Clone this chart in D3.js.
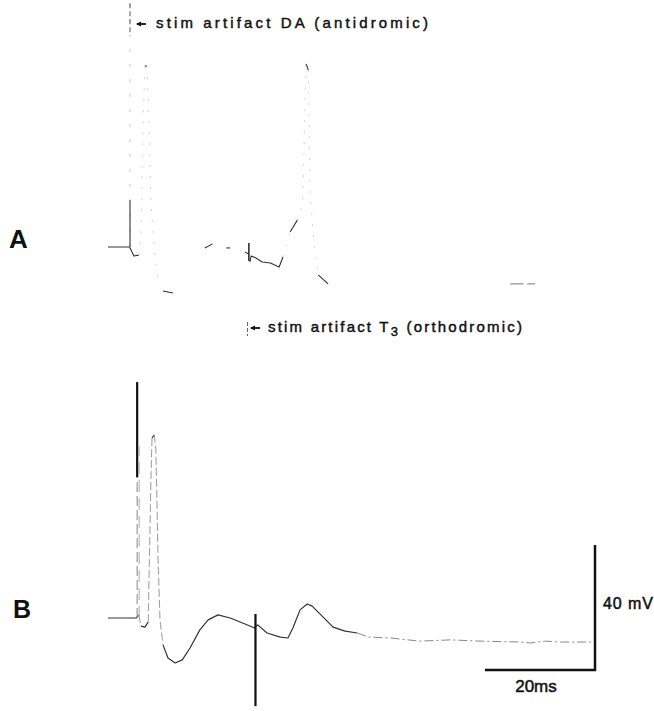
<!DOCTYPE html>
<html>
<head>
<meta charset="utf-8">
<script src="https://cdn.jsdelivr.net/npm/d3@7"></script>
<style>
  body { margin: 0; background: #fff; }
  svg { display: block; }
  text { font-family: "Liberation Sans", "DejaVu Sans", sans-serif; fill: #111; }
</style>
</head>
<body>
<svg id="chart" width="654" height="711"></svg>
<script>
// trace A (antidromic), time in ms, membrane potential in mV relative to rest; null = trace not visible
const timeA = [0, 3.9, 4.2, 4.7, 5.6, 6.0, 6.4, 6.7, 7.1, 7.5, 7.8, 8.4, 9.1, null,
  10.0, 11.8, null, 17.6, 19.0, null, 21.5, 22.2, null, 24.9, 25.5, 25.8, 26.0, 26.9, 28.0, 29.5,
  31.1, 31.8, 33.1, 34.4, 35.3, 35.5, 35.8, 36.0, 36.4, 36.7, 37.1, 37.5, 38.2, 40.0, null,
  73.1, 75.5, null, 76.2, 77.6];
const voltA = [0, 0, -1, -2.9, -2.6, 2.2, 40.6, 57.9, 57.9, 37.4, 15, -1, -10.6, null,
  -14.1, -14.7, null, -0.3, 1.0, null, -0.3, -0.3, null, -1.6, -2.2, -4.8, -2.9, -3.5, -4.8, -5.1,
  -6.4, -3.2, 4.8, 8.6, 13.4, 20.8, 47, 58.6, 56.6, 20.5, 8.6, -0.3, -8.9, -11.8, null,
  -11.8, -11.8, null, -11.8, -11.8];

// trace B (orthodromic)
const timeB = [0, 5.1, 5.6, 6.0, 6.7, 7.3, 7.8, 8.0, 8.4, 8.7, 9.1, 9.45, 10.0, 10.9, 12.2, 13.5,
  14.9, 16.7, 18.2, 20.0, 22.2, 24.9, 26.2, 26.6, 27.2, 28.9, 31.3, 32.7, 33.6, 34.9, 36.2, 37.1,
  39.1, 40.9, 43.1, 45.3, 47.3, 51.3, 56.7, 62.2, 67.6, 74.9, 76.7, 79.5, 82.2, 88.5];
const voltB = [0, 0, 1, -2.6, -2.9, -1.3, 44, 57.6, 58.6, 53.8, 18.6, -0.6, -8.6, -12.8, -14.4, -13.4,
  -9.6, -3.8, -0.6, 1.0, 0, -1.9, -2.9, -3.2, -2.2, -4.8, -6.1, -6.4, -3.2, 2.6, 4.5, 3.8,
  0.3, -2.9, -4.2, -4.8, -6.1, -6.4, -7.4, -7.0, -7.4, -7.7, -8.0, -7.4, -7.7, -7.7];

// stimulus artifacts: time, top and bottom potential
const artTimeA = [4.0, 25.6];
const artTopA = [78, 1.3];
const artBottomA = [0, -4.5];
const artTimeB = [5.3, 26.8];
const artTopB = [75.5, 1.3];
const artBottomB = [0, -28.2];

// calibration bars
const barMs = 20;
const barMv = 40;
const barEndMs = 88.5;
const barBottomMv = -16.6;

const svg = d3.select('#chart');
svg.append('rect').attr('width', 654).attr('height', 711).attr('fill', '#fff');

const x = d3.scaleLinear().domain([0, 88.5]).range([108, 595]);
const yA = d3.scaleLinear().domain([0, 40]).range([247, 122]);
const yB = d3.scaleLinear().domain([0, 40]).range([618, 493]);

const line = d3.line().x(d => d[0]).y(d => d[1]);

// split a trace into runs: steep (fast) parts come out broken and grey like the photo,
// and the late part of the sweep fades a bit
function drawTrace(times, volts, y, style) {
  const g = svg.append('g');
  let run = [], runKind = null;
  const flush = () => {
    if (run.length < 2) return;
    const s = style[runKind];
    g.append('path')
      .attr('d', line(run))
      .attr('fill', 'none')
      .attr('stroke', s.color)
      .attr('stroke-width', s.width)
      .attr('stroke-dasharray', s.dash || null)
      .attr('stroke-linejoin', 'round');
  };
  for (let i = 1; i < times.length; i++) {
    if (times[i - 1] == null || times[i] == null) {
      flush(); run = []; runKind = null;
      continue;
    }
    const p0 = [x(times[i - 1]), y(volts[i - 1])];
    const p1 = [x(times[i]), y(volts[i])];
    const fast = Math.abs(p1[1] - p0[1]) > 3 * Math.abs(p1[0] - p0[0]) && Math.abs(p1[1] - p0[1]) > 8;
    const kind = fast ? 'fast' : (times[i - 1] >= style.fadeAfter ? 'tail' : 'slow');
    if (runKind !== kind) {
      flush();
      run = [p0];
      runKind = kind;
    }
    run.push(p1);
  }
  flush();
}

drawTrace(timeA, voltA, yA, {
  fadeAfter: 60,
  slow: { color: '#333', width: 1.1 },
  tail: { color: '#777', width: 1 },
  fast: { color: '#d4d4d4', width: 1, dash: '2,9' }
});
drawTrace(timeB, voltB, yB, {
  fadeAfter: 44,
  slow: { color: '#333', width: 1.2 },
  tail: { color: '#888', width: 1, dash: '9,3,2,3' },
  fast: { color: '#9a9a9a', width: 1, dash: '8,3' }
});

// artifacts
artTimeA.forEach((t, i) => {
  svg.append('line')
    .attr('x1', x(t)).attr('x2', x(t))
    .attr('y1', yA(artBottomA[i])).attr('y2', yA(artTopA[i]))
    .attr('stroke', i === 0 ? '#c8c8c8' : '#222')
    .attr('stroke-width', i === 0 ? 1 : 1.5)
    .attr('stroke-dasharray', i === 0 ? '3,12' : null);
});
// visible foot and top of the first A artifact
svg.append('line')
  .attr('x1', x(artTimeA[0])).attr('x2', x(artTimeA[0]))
  .attr('y1', yA(0)).attr('y2', yA(15))
  .attr('stroke', '#333').attr('stroke-width', 1.1);
svg.append('line')
  .attr('x1', x(artTimeA[0])).attr('x2', x(artTimeA[0]))
  .attr('y1', yA(artTopA[0])).attr('y2', yA(artTopA[0] - 10))
  .attr('stroke', '#555').attr('stroke-width', 1).attr('stroke-dasharray', '5,3');

artTimeB.forEach((t, i) => {
  if (i === 0) {
    // upper part dark, lower part broken grey (double edge)
    svg.append('line')
      .attr('x1', x(t)).attr('x2', x(t))
      .attr('y1', yB(45)).attr('y2', yB(artTopB[i]))
      .attr('stroke', '#111').attr('stroke-width', 2.2);
    svg.append('line')
      .attr('x1', x(t)).attr('x2', x(t))
      .attr('y1', yB(artBottomB[i])).attr('y2', yB(45))
      .attr('stroke', '#999').attr('stroke-width', 1.2).attr('stroke-dasharray', '10,4');
    svg.append('line')
      .attr('x1', x(t) + 2).attr('x2', x(t) + 2)
      .attr('y1', yB(artBottomB[i])).attr('y2', yB(55))
      .attr('stroke', '#aaa').attr('stroke-width', 1).attr('stroke-dasharray', '12,6');
  } else {
    svg.append('line')
      .attr('x1', x(t)).attr('x2', x(t))
      .attr('y1', yB(artBottomB[i])).attr('y2', yB(artTopB[i]))
      .attr('stroke', '#111').attr('stroke-width', 2.2);
  }
});

// calibration bars
svg.append('path')
  .attr('d', line([
    [x(barEndMs - barMs), yB(barBottomMv)],
    [x(barEndMs), yB(barBottomMv)],
    [x(barEndMs), yB(barBottomMv + barMv)]
  ]))
  .attr('fill', 'none')
  .attr('stroke', '#111')
  .attr('stroke-width', 2.5);

svg.append('text')
  .attr('x', x(barEndMs) + 8).attr('y', yB(barBottomMv + barMv / 2) + 2)
  .attr('font-size', 16).attr('stroke', '#111').attr('stroke-width', 0.5)
  .attr('textLength', 50).attr('lengthAdjust', 'spacing')
  .text(`${barMv} mV`);

svg.append('text')
  .attr('x', x(barEndMs - barMs / 2) - 4).attr('y', yB(barBottomMv) + 22)
  .attr('text-anchor', 'middle')
  .attr('font-size', 17).attr('stroke', '#111').attr('stroke-width', 0.5)
  .text(`${barMs}ms`);

// panel letters
svg.append('text').attr('x', 9).attr('y', 248)
  .attr('font-size', 26).attr('font-weight', 'bold').text('A');
svg.append('text').attr('x', 13).attr('y', 618)
  .attr('font-size', 25).attr('font-weight', 'bold').text('B');

// labels for the stimulus artifacts
function arrow(x0, y0) {
  svg.append('line').attr('x1', x0).attr('x2', x0 + 9).attr('y1', y0).attr('y2', y0)
    .attr('stroke', '#111').attr('stroke-width', 1.8);
  svg.append('path')
    .attr('d', `M${x0 - 1},${y0} L${x0 + 4},${y0 - 2.5} L${x0 + 4},${y0 + 2.5} Z`)
    .attr('fill', '#111');
}

arrow(137, 24);
svg.append('text')
  .attr('x', 156).attr('y', 28)
  .attr('font-size', 15).attr('stroke', '#111').attr('stroke-width', 0.45)
  .attr('textLength', 272).attr('lengthAdjust', 'spacing')
  .text('stim  artifact  DA (antidromic)');

svg.append('line').attr('x1', 247.5).attr('x2', 247.5).attr('y1', 322).attr('y2', 336)
  .attr('stroke', '#666').attr('stroke-width', 1).attr('stroke-dasharray', '4,2');
arrow(251, 328);
const t3 = svg.append('text')
  .attr('x', 268).attr('y', 332)
  .attr('font-size', 15).attr('stroke', '#111').attr('stroke-width', 0.45)
  .attr('textLength', 254).attr('lengthAdjust', 'spacing');
t3.append('tspan').text('stim  artifact  T');
t3.append('tspan').attr('dy', 4).attr('font-size', 13).text('3');
t3.append('tspan').attr('dy', -4).text(' (orthodromic)');
</script>
</body>
</html>
